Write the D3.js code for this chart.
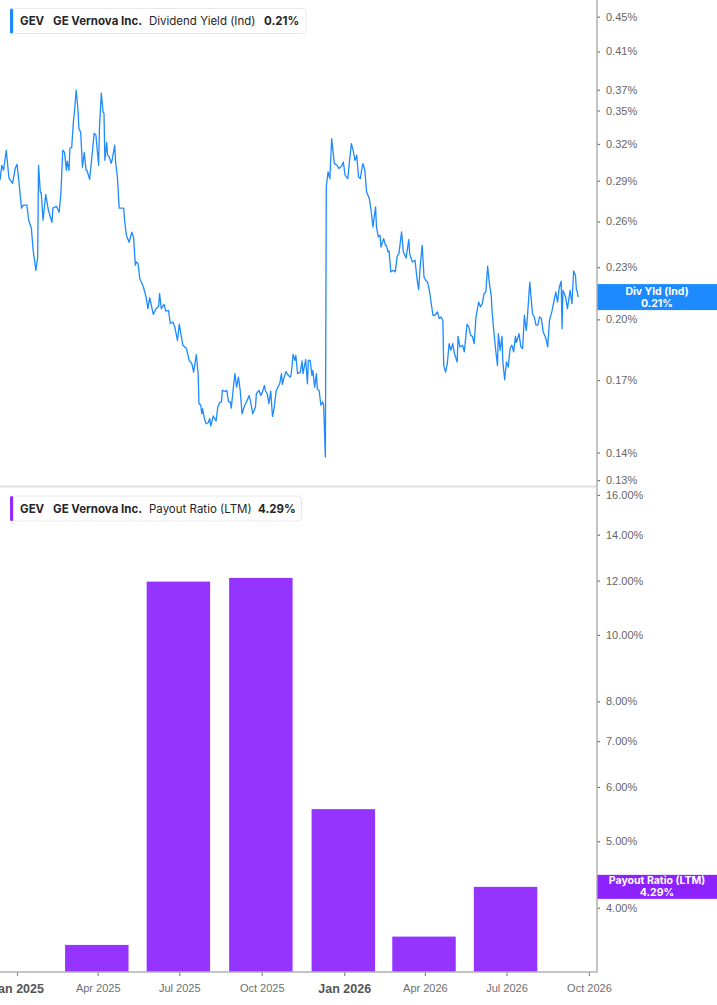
<!DOCTYPE html>
<html>
<head>
<meta charset="utf-8">
<script src="https://cdn.jsdelivr.net/npm/d3@7/dist/d3.min.js"></script>
<style>
  html, body { margin: 0; padding: 0; background: #fff; }
  svg { display: block; font-family: Inter, "Noto Sans", "DejaVu Sans", sans-serif; }
</style>
</head>
<body>
<svg id="chart" width="717" height="1005"></svg>
<script>
// ---------------- DATA ----------------
const divDates = [
"2024-12-13","2024-12-15","2024-12-17","2024-12-20","2024-12-23","2024-12-27","2024-12-30","2025-01-01","2025-01-03","2025-01-06",
"2025-01-08","2025-01-12","2025-01-14","2025-01-17","2025-01-19","2025-01-22","2025-01-24","2025-01-25","2025-01-27","2025-01-28",
"2025-01-30","2025-02-02","2025-02-05","2025-02-09","2025-02-10","2025-02-14","2025-02-17","2025-02-19","2025-02-21","2025-02-23",
"2025-02-25","2025-02-26","2025-02-28","2025-03-01","2025-03-03","2025-03-05","2025-03-06","2025-03-08","2025-03-10","2025-03-11",
"2025-03-13","2025-03-15","2025-03-17","2025-03-19","2025-03-20","2025-03-23","2025-03-26","2025-03-28","2025-03-30","2025-04-02",
"2025-04-03","2025-04-05","2025-04-07","2025-04-08","2025-04-09","2025-04-11","2025-04-12","2025-04-14","2025-04-16","2025-04-17",
"2025-04-20","2025-04-21","2025-04-23","2025-04-25","2025-04-30","2025-05-01","2025-05-03","2025-05-06","2025-05-09","2025-05-11",
"2025-05-13","2025-05-14","2025-05-16","2025-05-18","2025-05-22","2025-05-25","2025-05-27","2025-05-29","2025-06-02","2025-06-05",
"2025-06-08","2025-06-09","2025-06-11","2025-06-14","2025-06-16","2025-06-19","2025-06-21","2025-06-24","2025-06-26","2025-06-29",
"2025-07-01","2025-07-04","2025-07-05","2025-07-09","2025-07-12","2025-07-15","2025-07-17","2025-07-20","2025-07-22","2025-07-23",
"2025-07-25","2025-07-26","2025-07-27","2025-07-29","2025-07-31","2025-08-02","2025-08-04","2025-08-05","2025-08-08","2025-08-11",
"2025-08-13","2025-08-15","2025-08-17","2025-08-18","2025-08-21","2025-08-23","2025-08-25","2025-08-27","2025-08-28","2025-08-30",
"2025-09-01","2025-09-03","2025-09-05","2025-09-07","2025-09-09","2025-09-12","2025-09-14","2025-09-17","2025-09-19","2025-09-21",
"2025-09-24","2025-09-25","2025-09-28","2025-09-30","2025-10-02","2025-10-04","2025-10-05","2025-10-07","2025-10-09","2025-10-11",
"2025-10-13","2025-10-15","2025-10-17","2025-10-19","2025-10-21","2025-10-23","2025-10-24","2025-10-26","2025-10-28","2025-10-30",
"2025-11-02","2025-11-03","2025-11-05","2025-11-07","2025-11-08","2025-11-10","2025-11-13","2025-11-15","2025-11-16","2025-11-19",
"2025-11-21","2025-11-22","2025-11-24","2025-11-26","2025-11-27","2025-11-29","2025-12-01","2025-12-02","2025-12-04","2025-12-06",
"2025-12-08","2025-12-09","2025-12-11","2025-12-12","2025-12-14","2025-12-16","2025-12-18","2025-12-21","2025-12-24","2025-12-26",
"2025-12-29","2025-12-31","2026-01-02","2026-01-05","2026-01-07","2026-01-09","2026-01-11","2026-01-13","2026-01-15","2026-01-17",
"2026-01-19","2026-01-21","2026-01-22","2026-01-24","2026-01-26","2026-01-29","2026-01-31","2026-02-02","2026-02-05","2026-02-06",
"2026-02-08","2026-02-10","2026-02-11","2026-02-14","2026-02-16","2026-02-17","2026-02-19","2026-02-20","2026-02-22","2026-02-25",
"2026-02-27","2026-03-01","2026-03-03","2026-03-06","2026-03-08","2026-03-11","2026-03-14","2026-03-15","2026-03-18","2026-03-21",
"2026-03-23","2026-03-25","2026-03-27","2026-03-29","2026-03-31","2026-04-02","2026-04-04","2026-04-06","2026-04-10","2026-04-12",
"2026-04-15","2026-04-17","2026-04-19","2026-04-21","2026-04-22","2026-04-24","2026-04-26","2026-04-28","2026-04-30","2026-05-02",
"2026-05-04","2026-05-07","2026-05-08","2026-05-10","2026-05-13","2026-05-15","2026-05-18","2026-05-20","2026-05-22","2026-05-24",
"2026-05-26","2026-05-28","2026-05-31","2026-06-02","2026-06-04","2026-06-06","2026-06-08","2026-06-10","2026-06-12","2026-06-14",
"2026-06-15","2026-06-17","2026-06-19","2026-06-21","2026-06-22","2026-06-24","2026-06-26","2026-06-27","2026-06-29","2026-07-01",
"2026-07-03","2026-07-05","2026-07-07","2026-07-09","2026-07-11","2026-07-12","2026-07-15","2026-07-17","2026-07-19","2026-07-21",
"2026-07-23","2026-07-24","2026-07-27","2026-07-30","2026-08-01","2026-08-03","2026-08-05","2026-08-07","2026-08-09","2026-08-11",
"2026-08-14","2026-08-16","2026-08-18","2026-08-21","2026-08-22","2026-08-25","2026-08-27","2026-08-29","2026-08-31","2026-09-01",
"2026-09-02","2026-09-05","2026-09-07","2026-09-10","2026-09-12","2026-09-14","2026-09-16","2026-09-17","2026-09-18","2026-09-19"
];
const divValues = [
0.2903,0.3022,0.2982,0.3146,0.2919,0.2880,0.2998,0.3030,0.2903,0.2694,
0.2716,0.2716,0.2608,0.2553,0.2406,0.2281,0.2362,0.3022,0.2811,0.2811,
0.2608,0.2796,0.2679,0.2594,0.2694,0.2708,0.2665,0.2811,0.3146,0.3129,
0.2982,0.3055,0.2982,0.3163,0.3171,0.3409,0.3483,0.3695,0.3502,0.3337,
0.3301,0.3006,0.3129,0.2982,0.2982,0.2911,0.3129,0.3293,0.3275,0.3022,
0.3346,0.3666,0.3483,0.3474,0.3063,0.3214,0.3105,0.3088,0.3038,0.3063,
0.3189,0.3046,0.2927,0.2694,0.2694,0.2608,0.2505,0.2459,0.2526,0.2492,
0.2312,0.2332,0.2323,0.2230,0.2181,0.2123,0.2058,0.2120,0.2027,0.2058,
0.2071,0.2143,0.2058,0.2082,0.2045,0.2049,0.1978,0.1986,0.1959,0.1891,
0.1974,0.1891,0.1866,0.1850,0.1792,0.1776,0.1736,0.1820,0.1729,0.1596,
0.1589,0.1553,0.1574,0.1533,0.1512,0.1515,0.1533,0.1503,0.1544,0.1523,
0.1581,0.1600,0.1603,0.1653,0.1649,0.1653,0.1603,0.1603,0.1577,0.1653,
0.1729,0.1668,0.1713,0.1653,0.1553,0.1589,0.1603,0.1631,0.1596,0.1553,
0.1581,0.1639,0.1653,0.1631,0.1649,0.1675,0.1653,0.1639,0.1596,0.1650,
0.1542,0.1581,0.1649,0.1668,0.1683,0.1729,0.1680,0.1713,0.1739,0.1724,
0.1713,0.1732,0.1821,0.1792,0.1816,0.1729,0.1736,0.1789,0.1729,0.1795,
0.1683,0.1792,0.1792,0.1721,0.1744,0.1668,0.1729,0.1660,0.1653,0.1589,
0.1603,0.1589,0.1383,0.2851,0.2969,0.2916,0.3246,0.3036,0.3022,0.2996,
0.3014,0.3049,0.2942,0.2916,0.3063,0.3203,0.3146,0.3063,0.3105,0.2929,
0.2916,0.3009,0.3036,0.2982,0.2813,0.2765,0.2679,0.2562,0.2703,0.2562,
0.2494,0.2505,0.2428,0.2483,0.2439,0.2439,0.2395,0.2402,0.2271,0.2281,
0.2271,0.2368,0.2385,0.2528,0.2395,0.2357,0.2477,0.2385,0.2332,0.2343,
0.2240,0.2166,0.2323,0.2439,0.2240,0.2220,0.2210,0.2162,0.2022,0.2022,
0.2040,0.2004,0.2013,0.1995,0.1768,0.1736,0.1776,0.1874,0.1841,0.1874,
0.1825,0.1784,0.1911,0.1858,0.1866,0.1833,0.1974,0.1960,0.1916,0.1911,
0.1874,0.2013,0.2095,0.2068,0.2086,0.2143,0.2152,0.2306,0.2201,0.2133,
0.2040,0.1933,0.1841,0.1768,0.1925,0.1841,0.1911,0.1784,0.1701,0.1784,
0.1760,0.1850,0.1866,0.1833,0.1911,0.1880,0.1925,0.1858,0.1850,0.2022,
0.1942,0.1986,0.2210,0.2031,0.2013,0.1969,0.1969,0.2013,0.2004,0.1933,
0.1900,0.1858,0.1995,0.2049,0.2077,0.2152,0.2095,0.2181,0.2216,0.1951,
0.2162,0.2123,0.2058,0.2162,0.2086,0.2277,0.2250,0.2166,0.2152,0.2123
];

const payoutDates  = ["2025-03-31","2025-06-30","2025-09-30","2025-12-31","2026-03-31","2026-06-30"];
const payoutValues = [3.53, 11.96, 12.11, 5.57, 3.63, 4.29];

const divTicks    = [0.13, 0.14, 0.17, 0.20, 0.23, 0.26, 0.29, 0.32, 0.35, 0.37, 0.41, 0.45];
const payoutTicks = [4, 5, 6, 7, 8, 10, 12, 14, 16];
const xTickDates  = ["2025-01-01","2025-04-01","2025-07-01","2025-10-01","2026-01-01","2026-04-01","2026-07-01","2026-10-01"];

const xDomain      = ["2024-12-13", "2026-10-10"];
const divDomain    = [0.1278, 0.4706];
const payoutDomain = [3.223, 16.46];

const ticker = "GEV", company = "GE Vernova Inc.";
const divName = "Dividend Yield (Ind)", divShort = "Div Yld (Ind)";
const payName = "Payout Ratio (LTM)";

// ---------------- LAYOUT / STYLE ----------------
const plotRight = 597;
const upTop = 0, upBottom = 486.5;
const loTop = 486.5, loBottom = 972;
const blue = "#1e8aff", purple = "#9634ff", purpleTag = "#8e22ff";
const barHalfDays = 35.4;

const svg = d3.select("#chart");
const parse = s => new Date(s + "T00:00:00Z");

const x = d3.scaleUtc().domain(xDomain.map(parse)).range([0, plotRight]);
const yU = d3.scaleLog().domain(divDomain).range([upBottom, upTop]);
const yL = d3.scaleLog().domain(payoutDomain).range([loBottom, loTop]);

const divData = divDates.map((d, i) => ({ t: parse(d), v: divValues[i] }));
const payData = payoutDates.map((d, i) => ({ t: parse(d), v: payoutValues[i] }));

// separator between panels
svg.append("line")
  .attr("x1", 0).attr("x2", plotRight)
  .attr("y1", upBottom).attr("y2", upBottom)
  .attr("stroke", "#e0e0e0").attr("stroke-width", 2);

// bars
svg.append("g").selectAll("rect").data(payData).join("rect")
  .attr("x", d => x(new Date(+d.t - barHalfDays * 864e5)))
  .attr("width", d => x(new Date(+d.t + barHalfDays * 864e5)) - x(new Date(+d.t - barHalfDays * 864e5)))
  .attr("y", d => yL(d.v))
  .attr("height", d => loBottom - yL(d.v))
  .attr("fill", purple);

// line
const line = d3.line().x(d => x(d.t)).y(d => yU(d.v));
svg.append("path").datum(divData)
  .attr("d", line)
  .attr("fill", "none")
  .attr("stroke", blue)
  .attr("stroke-width", 1.3)
  .attr("stroke-linejoin", "round");

// right axes
function styleAxis(g) {
  g.select(".domain").remove();
  g.selectAll(".tick line").attr("stroke", "#777").attr("stroke-width", 1.2);
  g.selectAll(".tick text").attr("fill", "#666").attr("font-size", 11);
}
svg.append("g").attr("transform", `translate(${plotRight},0)`)
  .call(d3.axisRight(yU).tickValues(divTicks).tickSize(3).tickPadding(6)
        .tickFormat(d => d.toFixed(2) + "%"))
  .call(styleAxis);
svg.append("g").attr("transform", `translate(${plotRight},0)`)
  .call(d3.axisRight(yL).tickValues(payoutTicks).tickSize(3).tickPadding(6)
        .tickFormat(d => d.toFixed(2) + "%"))
  .call(styleAxis);

// bottom axis
const xAxisG = svg.append("g").attr("transform", `translate(0,${loBottom})`)
  .call(d3.axisBottom(x).tickValues(xTickDates.map(parse)).tickSize(4).tickPadding(8)
        .tickFormat(d3.utcFormat("%b %Y")));
xAxisG.select(".domain").remove();
xAxisG.selectAll(".tick line").attr("stroke", "#888").attr("stroke-width", 1.2);
xAxisG.selectAll(".tick text")
  .attr("fill", d => d.getUTCMonth() === 0 ? "#555" : "#6e6e6e")
  .attr("font-size", d => d.getUTCMonth() === 0 ? 12.5 : 11)
  .attr("font-weight", d => d.getUTCMonth() === 0 ? 700 : 400);

// axis frame lines
svg.append("line").attr("x1", plotRight).attr("x2", plotRight)
  .attr("y1", 0).attr("y2", loBottom + 0.5)
  .attr("stroke", "#b0b0b0").attr("stroke-width", 1.5);
svg.append("line").attr("x1", 0).attr("x2", plotRight)
  .attr("y1", loBottom).attr("y2", loBottom)
  .attr("stroke", "#b0b0b0").attr("stroke-width", 1.5);

// legends
function legend(y0, w, color, label, value, xs) {
  const g = svg.append("g");
  g.append("rect").attr("x", 10.5).attr("y", y0).attr("width", w).attr("height", 25)
    .attr("rx", 4).attr("fill", "#fff").attr("stroke", "#e8e8e8");
  g.append("rect").attr("x", 10).attr("y", y0).attr("width", 3.2).attr("height", 25)
    .attr("rx", 1.5).attr("fill", color);
  const base = y0 + 16.8;
  const parts = [
    { t: ticker, x: xs[0], w: 700 },
    { t: company, x: xs[1], w: 700 },
    { t: label, x: xs[2], w: 400 },
    { t: value, x: xs[3], w: 700 }
  ];
  parts.forEach(p => g.append("text").attr("x", p.x).attr("y", base)
    .attr("font-size", 11.5).attr("font-weight", p.w).attr("fill", "#262626").text(p.t));
}
legend(8.5, 295.5, blue, divName, d3.format(".2f")(divValues[divValues.length - 1]) + "%", [20, 53, 149, 264]);
legend(496, 291, "#8f2cff", payName, payoutValues[payoutValues.length - 1].toFixed(2) + "%", [20, 53, 149, 258]);

// value tags on right axis
function tag(cy, h, color, l1, l2, o1, o2) {
  const g = svg.append("g");
  g.append("rect").attr("x", plotRight + 0.5).attr("y", cy - h / 2)
    .attr("width", 717 - plotRight).attr("height", h).attr("fill", color);
  g.append("text").attr("x", 657).attr("y", cy + o1).attr("text-anchor", "middle")
    .attr("fill", "#fff").attr("font-size", 10.5).attr("font-weight", 700).text(l1);
  g.append("text").attr("x", 657).attr("y", cy + o2).attr("text-anchor", "middle")
    .attr("fill", "#fff").attr("font-size", 10.5).attr("font-weight", 700).text(l2);
}
const lastDiv = divValues[divValues.length - 1];
const lastPay = payoutValues[payoutValues.length - 1];
tag(yU(lastDiv), 26, blue, divShort, lastDiv.toFixed(2) + "%", -2, 9.8);
tag(yL(lastPay), 24, purpleTag, payName, lastPay.toFixed(2) + "%", -2.5, 9.4);
</script>
</body>
</html>
